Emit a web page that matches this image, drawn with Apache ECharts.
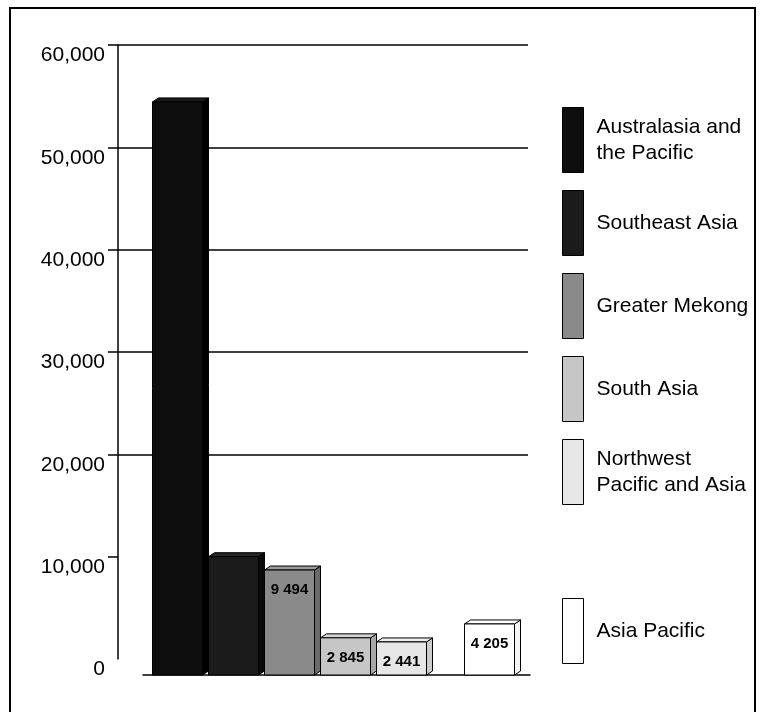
<!DOCTYPE html>
<html>
<head>
<meta charset="utf-8">
<script src="https://cdn.jsdelivr.net/npm/echarts@6/dist/echarts.min.js"></script>
<style>
  html, body { margin: 0; padding: 0; background: #fff; }
  #chart { width: 763px; height: 712px; }
</style>
</head>
<body>
<div id="chart"></div>
<script>
// regions, in bar order (left to right)
const regions = [
  'Australasia and\nthe Pacific',
  'Southeast Asia',
  'Greater Mekong',
  'South Asia',
  'Northwest\nPacific and Asia',
  'Asia Pacific'
]
const values = [55400, 10800, 9494, 2845, 2441, 4205]
const labelled = [false, false, true, true, true, true]
const yTicks = [0, 10000, 20000, 30000, 40000, 50000, 60000]

// greys of the printed chart
const faceColors = ['#0e0e0e', '#1b1b1b', '#8a8a8a', '#c6c6c6', '#e6e6e6', '#ffffff']
const sideColors = ['#000000', '#0a0a0a', '#6a6a6a', '#a6a6a6', '#cccccc', '#f4f4f4']
const topColors = ['#1a1a1a', '#262626', '#9a9a9a', '#d2d2d2', '#eeeeee', '#ffffff']

const font = "'Liberation Sans', Arial, sans-serif"

// bar geometry (pixels): front width, depth, pitch, and the extra empty space before Asia Pacific
const barW = 50, depthX = 6, depthY = 4, pitch = 56, extraGap = 32, gapAfter = 4
const floorValue = -800 // bars stand on the front floor edge, a little below zero
const slotStart = i => i * pitch + (i > gapAfter ? extraGap : 0)
const totalW = slotStart(regions.length - 1) + pitch

const spaced = v => String(v).replace(/\B(?=(\d{3})+(?!\d))/g, ' ')

const series = regions.map((name, i) => ({
  name: name,
  type: 'custom',
  xAxisIndex: 1,
  yAxisIndex: 1,
  data: [[0, values[i]]],
  encode: { x: 0, y: 1 },
  itemStyle: { color: faceColors[i], borderColor: '#000', borderWidth: 1 },
  renderItem: (params, api) => {
    const base = api.coord([0, floorValue])
    const top = api.coord([0, api.value(1)])
    const x = base[0] - totalW / 2 + slotStart(i)
    const yb = base[1], yt = top[1]
    const stroke = { stroke: '#000', lineWidth: 1 }
    const children = [
      {
        type: 'polygon',
        shape: { points: [[x + barW, yt], [x + barW + depthX, yt - depthY], [x + barW + depthX, yb - depthY], [x + barW, yb]] },
        style: Object.assign({ fill: sideColors[i] }, stroke)
      },
      {
        type: 'polygon',
        shape: { points: [[x, yt], [x + depthX, yt - depthY], [x + barW + depthX, yt - depthY], [x + barW, yt]] },
        style: Object.assign({ fill: topColors[i] }, stroke)
      },
      {
        type: 'rect',
        shape: { x: x, y: yt, width: barW, height: yb - yt },
        style: Object.assign({ fill: faceColors[i] }, stroke)
      }
    ]
    if (labelled[i]) {
      children.push({
        type: 'text',
        style: {
          text: spaced(api.value(1)),
          x: x + barW / 2,
          y: yt + 20,
          align: 'center',
          verticalAlign: 'middle',
          fontFamily: font,
          fontSize: 15,
          fontWeight: 'bold',
          fill: '#000'
        }
      })
    }
    return { type: 'group', children: children }
  }
}))

const legendBase = {
  orient: 'vertical',
  left: 562,
  padding: 0,
  icon: 'rect',
  itemWidth: 21,
  itemHeight: 65,
  itemGap: 17,
  selectedMode: false,
  itemStyle: { borderColor: '#000', borderWidth: 1 },
  textStyle: { fontFamily: font, fontSize: 21, lineHeight: 26, color: '#000', padding: [0, 0, 0, 8] }
}

const option = {
  animation: false,
  backgroundColor: '#fff',
  graphic: [{
    type: 'rect',
    shape: { x: 10, y: 8, width: 745, height: 720 },
    style: { fill: 'none', stroke: '#000', lineWidth: 2 },
    silent: true
  }],
  legend: [
    Object.assign({}, legendBase, { data: regions.slice(0, 5), top: 107 }),
    Object.assign({}, legendBase, { data: regions.slice(5), top: 598 })
  ],
  grid: [
    // back wall with the gridlines
    { left: 118, right: 235, top: 45, bottom: 53 },
    // front plane where the bars stand
    { left: 143, right: 233, top: 55, bottom: 37 }
  ],
  xAxis: [
    { type: 'category', gridIndex: 0, data: [''], show: false },
    {
      type: 'category',
      gridIndex: 1,
      data: [''],
      axisLine: { show: true, onZero: false, lineStyle: { color: '#000', width: 1.5 } },
      axisTick: { show: false },
      axisLabel: { show: false }
    }
  ],
  yAxis: [
    {
      type: 'value',
      gridIndex: 0,
      min: yTicks[0],
      max: yTicks[yTicks.length - 1],
      interval: yTicks[1] - yTicks[0],
      axisLine: { show: true, lineStyle: { color: '#000', width: 1.5 } },
      axisTick: {
        show: true,
        length: 10,
        customValues: yTicks.slice(1),
        lineStyle: { color: '#000', width: 1.5 }
      },
      axisLabel: {
        customValues: yTicks,
        formatter: v => v.toLocaleString('en-US'),
        fontFamily: font,
        fontSize: 21,
        color: '#000',
        margin: 13,
        verticalAlign: 'top'
      },
      splitLine: {
        show: true,
        showMinLine: false,
        lineStyle: { color: '#000', width: 1.5 }
      }
    },
    {
      type: 'value',
      gridIndex: 1,
      min: floorValue,
      max: 60000,
      show: false
    }
  ],
  series: series
}

const chart = echarts.init(document.getElementById('chart'), null, { renderer: 'canvas' })
chart.setOption(option)
</script>
</body>
</html>
